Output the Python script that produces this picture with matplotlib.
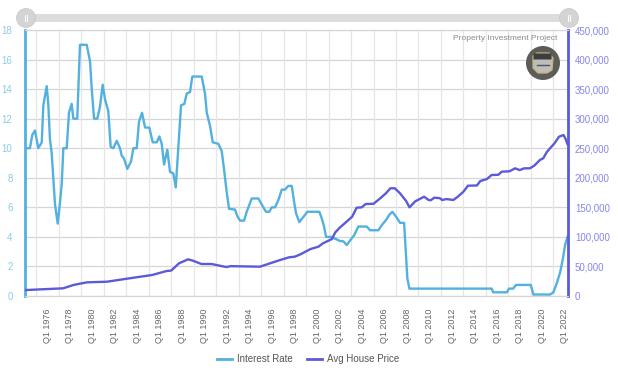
import matplotlib
matplotlib.use("Agg")
import matplotlib.pyplot as plt
from matplotlib.patches import Circle, FancyBboxPatch, Polygon
from matplotlib.ticker import FuncFormatter

plt.rcParams['font.family'] = ['Liberation Sans', 'DejaVu Sans']

# ---- data (vertices; x in decimal years) ----
rate_years = [1974.0, 1974.44, 1974.65, 1974.89, 1975.18, 1975.49, 1975.63, 1975.93, 1976.07,
              1976.22, 1976.37, 1976.52, 1976.67, 1976.91, 1977.11, 1977.27, 1977.41, 1977.71,
              1977.91, 1978.15, 1978.30, 1978.65, 1978.89, 1979.49, 1979.78, 1979.93, 1980.14,
              1980.43, 1980.67, 1980.91, 1981.12, 1981.41, 1981.62, 1981.86, 1982.16, 1982.45,
              1982.60, 1982.81, 1983.10, 1983.43, 1983.64, 1983.94, 1984.14, 1984.41, 1984.68,
              1985.06, 1985.36, 1985.72, 1985.95, 1986.16, 1986.37, 1986.66, 1986.90, 1987.19,
              1987.41, 1987.64, 1987.88, 1988.17, 1988.39, 1988.68, 1988.88, 1989.72, 1990.01,
              1990.17, 1990.46, 1990.70, 1991.20, 1991.50, 1991.70, 1991.94, 1992.15, 1992.68,
              1992.89, 1993.13, 1993.49, 1993.72, 1994.02, 1994.17, 1994.76, 1995.20, 1995.44,
              1995.73, 1995.95, 1996.24, 1996.54, 1996.84, 1997.13, 1997.42, 1997.73, 1997.93,
              1998.11, 1998.40, 1998.71, 1999.12, 2000.18, 2000.40, 2000.60, 2000.78, 2001.22,
              2001.52, 2002.02, 2002.32, 2002.62, 2002.91, 2003.27, 2003.65, 2004.40, 2004.69,
              2005.43, 2005.74, 2006.12, 2006.41, 2006.68, 2007.07, 2007.36, 2007.72, 2007.90,
              2008.01, 2008.19, 2015.52, 2015.64, 2016.86, 2017.06, 2017.42, 2017.68, 2018.99,
              2019.22, 2020.71, 2021.00, 2021.30, 2021.60, 2021.84, 2022.04, 2022.25]
rate_values = [10, 10, 10.9, 11.2, 10.0, 10.4, 12.9, 14.2, 13.0,
               10.6, 9.7, 8.0, 6.2, 4.9, 6.3, 7.6, 10, 10,
               12.4, 13.0, 12.0, 12.0, 17.0, 17.0, 15.9, 14.1, 12.0,
               12.0, 12.8, 14.3, 13.3, 12.5, 10.1, 10.0, 10.5, 10.0,
               9.5, 9.3, 8.6, 9.1, 10, 10, 11.8, 12.4, 11.4,
               11.4, 10.4, 10.4, 10.8, 10.3, 8.9, 9.9, 8.4, 8.3,
               7.35, 10.1, 12.9, 13.0, 13.7, 13.8, 14.85, 14.85, 13.7,
               12.4, 11.5, 10.4, 10.3, 9.8, 8.6, 7.05, 5.9, 5.85,
               5.4, 5.1, 5.1, 5.7, 6.3, 6.6, 6.6, 6.0, 5.7,
               5.7, 6.0, 6.0, 6.5, 7.2, 7.2, 7.45, 7.45, 6.4,
               5.6, 5.0, 5.3, 5.7, 5.7, 5.25, 4.7, 4.0, 4.0,
               3.9, 3.72, 3.7, 3.45, 3.75, 4.1, 4.7, 4.7, 4.45,
               4.45, 4.8, 5.15, 5.5, 5.7, 5.3, 4.95, 4.95, 2.55,
               1.2, 0.5, 0.5, 0.25, 0.25, 0.5, 0.5, 0.75, 0.75,
               0.1, 0.1, 0.25, 0.86, 1.6, 2.5, 3.45, 4.0]

price_years = [1974.0, 1977.4, 1978.3, 1979.5, 1981.3, 1982.9, 1983.5, 1985.3, 1986.6,
               1987.0, 1987.7, 1988.5, 1988.9, 1989.7, 1990.6, 1991.9, 1992.3, 1994.9,
               1995.8, 1996.7, 1997.5, 1998.0, 1998.5, 1999.4, 2000.1, 2000.5, 2001.3,
               2001.6, 2002.0, 2002.6, 2003.1, 2003.5, 2003.95, 2004.3, 2005.0, 2005.6,
               2006.1, 2006.5, 2006.9, 2007.36, 2007.9, 2008.2, 2008.7, 2009.1, 2009.5,
               2009.9, 2010.1, 2010.4, 2010.9, 2011.1, 2011.5, 2012.1, 2012.5, 2013.0,
               2013.4, 2014.2, 2014.5, 2015.1, 2015.5, 2016.1, 2016.4, 2017.1, 2017.6,
               2018.0, 2018.4, 2018.9, 2019.3, 2019.8, 2020.1, 2020.4, 2020.7, 2021.1,
               2021.5, 2021.9, 2022.1, 2022.25]
price_values = [10000, 13000, 18600, 23100, 24200, 28800, 30500, 35500, 42300,
                43000, 55300, 62000, 60000, 54100, 54100, 49000, 50500, 49600,
                55300, 60900, 65500, 66500, 70500, 79500, 83400, 89100, 96400,
                107700, 115600, 125700, 134200, 149400, 150000, 155600, 156000, 165300,
                173700, 182200, 182200, 173700, 160700, 150000, 160000, 164000, 168000,
                162400, 162000, 166300, 165500, 162400, 164000, 162400, 168000, 176500,
                186600, 187000, 194500, 198000, 204700, 205000, 210300, 211000, 216000,
                213000, 216000, 216000, 220500, 230100, 233000, 243100, 249800, 258300,
                269500, 272300, 265000, 257100]

tick_years = list(range(1976, 2023, 2))
tick_labels = [f"Q1 {y}" for y in tick_years]
grid_years = list(range(1975, 2022, 2))
series_names = ["Interest Rate", "Avg House Price"]

RATE_C = "#52b1df"
PRICE_C = "#5b5bd8"
W, H = 618, 368

fig = plt.figure(figsize=(W / 100, H / 100), dpi=100)
L, R, T, B = 25, 568, 30, 296
ax = fig.add_axes([L / W, 1 - B / H, (R - L) / W, (B - T) / H])
ax2 = ax.twinx()

ax.set_xlim(1974.0, 2022.3)
ax.set_ylim(0, 18)
ax2.set_ylim(0, 450000)

# grid
for gy in range(0, 19, 2):
    ax.axhline(gy, color="#d6d6d6", lw=0.9, zorder=0)
for gx in grid_years:
    ax.axvline(gx, color="#e6e6e6", lw=0.9, zorder=0)

ax.plot(rate_years, rate_values, color=RATE_C, lw=1.7, zorder=3, solid_joinstyle="round")
ax2.plot(price_years, price_values, color=PRICE_C, lw=1.7, zorder=3, solid_joinstyle="round")

ax.set_yticks(range(0, 19, 2))
ax2.set_yticks(range(0, 450001, 50000))
ax2.yaxis.set_major_formatter(FuncFormatter(lambda v, p: f"{int(v):,}"))
ax.set_xticks(tick_years)
ax.set_xticklabels(tick_labels, rotation=90, fontsize=6.5, color="#666666")
ax.tick_params(axis="x", length=0, pad=9)
ax.tick_params(axis="y", length=0, pad=9, labelsize=7, labelcolor="#8ccaea")
ax2.tick_params(axis="y", length=0, pad=5, labelsize=7, labelcolor="#8686ec")
for a in (ax, ax2):
    a.spines["top"].set_color("#d6d6d6")
    a.spines["bottom"].set_color("#d6d6d6")
    a.spines["left"].set_visible(False)
    a.spines["right"].set_visible(False)
    a.set_facecolor("none")
ax2.spines["left"].set_visible(True)
ax2.spines["left"].set_color(RATE_C)
ax2.spines["left"].set_linewidth(2)
ax2.spines["right"].set_visible(True)
ax2.spines["right"].set_color(PRICE_C)
ax2.spines["right"].set_linewidth(2)

# overlay in pixel coordinates
ov = fig.add_axes([0, 0, 1, 1], zorder=10)
ov.set_xlim(0, W)
ov.set_ylim(H, 0)
ov.axis("off")
ov.set_facecolor("none")

# slider
ov.add_patch(FancyBboxPatch((26, 14), 544, 8, boxstyle="square,pad=0", fc="#dcdcdc", ec="none"))
for cx in (26, 569):
    ov.add_patch(Circle((cx, 18), 9.5, fc="#d4d4d4", ec="#c8c8c8", lw=0.5))
    ov.plot([cx - 1.3, cx - 1.3], [15, 21], color="white", lw=0.7)
    ov.plot([cx + 1.3, cx + 1.3], [15, 21], color="white", lw=0.7)

# watermark
ov.text(557, 39, "Property Investment Project", fontsize=6, color="#8a8a8a",
        ha="right", va="center")
ov.add_patch(Circle((543, 63), 17, fc="#5c5c5a", ec="none"))
ov.add_patch(Polygon([(533, 56), (537, 53), (549, 53), (553, 58), (552, 70), (547, 73),
                      (538, 73), (533, 68)], closed=True, fc="#bdbdbd", ec="#c9b66d", lw=0.9))
ov.add_patch(FancyBboxPatch((534, 54), 17, 5, boxstyle="round,pad=0.5", fc="#3d3d3d", ec="none"))
ov.plot([537, 549], [65, 65], color="#555", lw=1)

# legend
ov.plot([217, 232], [359, 359], color=RATE_C, lw=2)
ov.text(237, 359, series_names[0], fontsize=7, color="#555555", va="center", ha="left")
ov.plot([307, 322], [359, 359], color=PRICE_C, lw=2)
ov.text(327, 359, series_names[1], fontsize=7, color="#555555", va="center", ha="left")

fig.savefig("out.png", dpi=100)
